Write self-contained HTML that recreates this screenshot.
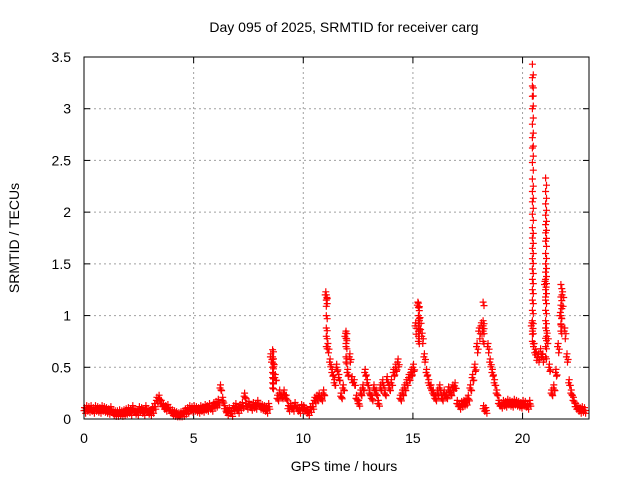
<!DOCTYPE html>
<html><head><meta charset="utf-8"><style>
html,body{margin:0;padding:0;background:#fff}
svg{display:block;font-family:"Liberation Sans",sans-serif}
</style></head><body>
<svg id="chart" width="640" height="480" viewBox="0 0 640 480">
<rect width="640" height="480" fill="#fff"/>
<text x="344" y="32" font-size="14" text-anchor="middle">Day 095 of 2025, SRMTID for receiver carg</text>
<text x="344" y="471" font-size="14" text-anchor="middle">GPS time / hours</text>
<text transform="translate(19,238) rotate(-90)" font-size="14" text-anchor="middle">SRMTID / TECUs</text>
<g id="grid"></g><g id="ticks"></g><g id="marks"></g>
<rect x="84" y="57" width="505" height="362" fill="none" stroke="#000" stroke-width="1"/>
</svg>
<script>
const xTicks=[0,5,10,15,20];
const yTicks=[0,0.5,1,1.5,2,2.5,3,3.5];
const yTickLabels=["0","0.5","1","1.5","2","2.5","3","3.5"];
const baseStart=0, baseStep=0.1;
const baseValues=[
.08,.1,.09,.1,.08,.1,.09,.08,.1,.09,
.08,.07,.09,.06,.05,.05,.06,.05,.06,.07,
.08,.06,.1,.07,.06,.09,.08,.06,.1,.07,
.06,.08,.12,.18,.2,.15,.12,.1,.11,.08,
.06,.05,.04,.03,.04,.05,.07,.08,.1,.09,
.1,.09,.08,.1,.09,.11,.1,.12,.1,.13,
.14,.16,.3,.18,.1,.06,.08,.05,.1,.12,
.08,.11,.13,.22,.12,.14,.11,.13,.12,.15,
.12,.11,.1,.08,.12,.6,.55,.4,.2,.25,
.22,.25,.2,.1,.12,.1,.13,.1,.08,.11,
.1,.08,.06,.09,.12,.18,.2,.22,.2,.25,
1.2,.7,.55,.45,.35,.5,.4,.22,.3,.8,
.45,.6,.38,.35,.2,.15,.25,.3,.45,.35,
.25,.2,.3,.25,.15,.3,.35,.25,.38,.3,
.35,.45,.5,.55,.2,.25,.3,.35,.4,.45,
.5,.9,1.1,.95,.8,.6,.45,.35,.3,.25,
.2,.25,.3,.2,.25,.22,.28,.25,.3,.32,
.15,.12,.14,.15,.16,.2,.3,.4,.5,.7,
.85,.9,.1,.08,.7,.55,.45,.35,.25,.15,
.13,.15,.14,.16,.15,.14,.16,.15,.14,.13,
.15,.14,.12,.15,.9,.7,.62,.6,.65,.6,
1.3,.8,.5,.25,.3,.45,.7,1.0,1.2,.85,
.6,.35,.25,.18,.12,.1,.08,.09,.08];
const spikeHours=[20.45,21.05,21.75,11.05,11.95,15.25,18.2,8.6];
const spikeValues=[
[3.43,3.3,3.22,3.12,3.0,2.85,2.72,2.62,2.48,2.32,2.2,2.1,1.98,1.85,1.75,1.65,1.55,1.45,1.35,1.25,1.15,1.05,0.95,0.85,0.75],
[2.33,2.2,2.08,1.97,1.88,1.8,1.72,1.6,1.5,1.42,1.35,1.25,1.15,1.05,0.95,0.88,0.78,0.7,0.6],
[1.3,1.18,1.1,1.0,0.92,0.85],
[1.2,1.15,1.0,0.88,0.8,0.7],
[0.85,0.78,0.7,0.6,0.55],
[1.12,1.08,1.0,0.95,0.9,0.85,0.8,0.75],
[1.13,0.95,0.9,0.85,0.75],
[0.67,0.6,0.55,0.5,0.45,0.4,0.35,0.3]];
const X0=84,X1=589,Y0=419,Y1=57,XMAX=23.03,YMAX=3.5;
function xs(v){return X0+(X1-X0)*v/XMAX;}
function ys(v){return Y0-(Y0-Y1)*v/YMAX;}
const NS="http://www.w3.org/2000/svg";
const grid=document.getElementById('grid'),ticks=document.getElementById('ticks'),marks=document.getElementById('marks');
function mk(tag,attrs,parent){const e=document.createElementNS(NS,tag);for(const k in attrs)e.setAttribute(k,attrs[k]);parent.appendChild(e);return e;}
xTicks.forEach(t=>{const x=xs(t);
 if(t>0){const g=mk('line',{x1:x,x2:x,y1:Y0,y2:Y1,stroke:'#a0a0a0','stroke-dasharray':'2,3'},grid);
 
 }
 mk('line',{x1:x,x2:x,y1:Y0,y2:Y0-6,stroke:'#000'},ticks);
 mk('line',{x1:x,x2:x,y1:Y1,y2:Y1+6,stroke:'#000'},ticks);
 const l=mk('text',{x:x,y:443,'font-size':14,'text-anchor':'middle'},ticks);l.textContent=String(t);
 
 });
yTicks.forEach((t,i)=>{const y=ys(t);
 if(t>0&&t<YMAX){const g=mk('line',{x1:X0,x2:X1,y1:y,y2:y,stroke:'#a0a0a0','stroke-dasharray':'2,3'},grid);
 
 }
 mk('line',{x1:X0,x2:X0+6,y1:y,y2:y,stroke:'#000'},ticks);
 mk('line',{x1:X1,x2:X1-6,y1:y,y2:y,stroke:'#000'},ticks);
 const l=mk('text',{x:71,y:y+5,'font-size':14,'text-anchor':'end'},ticks);l.textContent=yTickLabels[i];
 
 });
let d='';
function plus(t,v){const x=xs(t),y=ys(v);d+=`M${(x-3.5).toFixed(1)} ${y.toFixed(1)}h7M${x.toFixed(1)} ${(y-3.5).toFixed(1)}v7`;}
baseValues.forEach((v,i)=>{const t=baseStart+i*baseStep;
 plus(t,v);plus(t+0.05,v*0.9+0.01);
 plus(t+0.025,v+0.03);plus(t+0.075,Math.max(0.02,v-0.025));});
spikeHours.forEach((h,i)=>spikeValues[i].forEach(v=>{plus(h,v);plus(h+0.04,v*0.97);}));
const p=mk('path',{d:d,stroke:'#ff0000','stroke-width':1.2,fill:'none'},marks);


</script>
</body></html>
